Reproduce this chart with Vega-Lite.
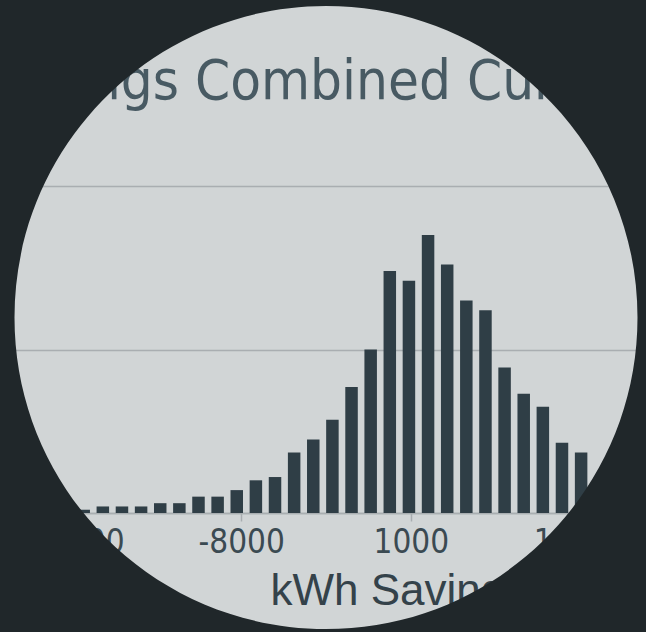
{
  "$schema": "https://vega.github.io/schema/vega-lite/v6.json",
  "width": 632,
  "height": 327,
  "autosize": {"type": "none"},
  "padding": {"left": 10, "top": 186, "right": 4, "bottom": 119},
  "background": "#d1d5d6",
  "config": {"view": {"stroke": null}},
  "layer": [
    {
      "data": {
        "values": [
          {"kwh": -19400, "count": 1},
          {"kwh": -18385, "count": 1},
          {"kwh": -17370, "count": 2},
          {"kwh": -16355, "count": 2},
          {"kwh": -15340, "count": 4},
          {"kwh": -14325, "count": 4},
          {"kwh": -13310, "count": 4},
          {"kwh": -12295, "count": 6},
          {"kwh": -11280, "count": 6},
          {"kwh": -10265, "count": 10},
          {"kwh": -9250, "count": 10},
          {"kwh": -8235, "count": 14},
          {"kwh": -7220, "count": 20},
          {"kwh": -6205, "count": 22},
          {"kwh": -5190, "count": 37},
          {"kwh": -4175, "count": 45},
          {"kwh": -3160, "count": 57},
          {"kwh": -2145, "count": 77},
          {"kwh": -1130, "count": 100},
          {"kwh": -115, "count": 148},
          {"kwh": 900, "count": 142},
          {"kwh": 1915, "count": 170},
          {"kwh": 2930, "count": 152},
          {"kwh": 3945, "count": 130},
          {"kwh": 4960, "count": 124},
          {"kwh": 5975, "count": 89},
          {"kwh": 6990, "count": 73},
          {"kwh": 8005, "count": 65},
          {"kwh": 9020, "count": 43},
          {"kwh": 10035, "count": 37}
        ]
      },
      "mark": {"type": "bar", "size": 12.5, "color": "#2f3e46"},
      "encoding": {
        "x": {
          "field": "kwh",
          "type": "quantitative",
          "title": "kWh Savings",
          "scale": {"domain": [-20000, 13000], "nice": false, "zero": false},
          "axis": {
            "values": [-17000, -8000, 1000, 10000],
            "labelExpr": "'' + datum.value",
            "labelFont": "DejaVu Sans Condensed",
            "labelFontSize": 33,
            "labelColor": "#3b4a52",
            "labelPadding": 5,
            "labelFlush": false,
            "labelOverlap": false,
            "tickSize": 8,
            "tickColor": "#a9aeb1",
            "tickWidth": 1.5,
            "domainColor": "#a9aeb1",
            "domainWidth": 1.5,
            "grid": false,
            "titleFont": "Liberation Sans",
            "titleFontSize": 44,
            "titleFontWeight": "normal",
            "titleColor": "#34424a",
            "titleAlign": "left",
            "titleBaseline": "alphabetic",
            "titleX": 260,
            "titleY": 91
          }
        },
        "y": {
          "field": "count",
          "type": "quantitative",
          "scale": {"domain": [0, 200], "nice": false},
          "axis": {
            "values": [0, 100, 200],
            "labels": false,
            "ticks": false,
            "domain": false,
            "title": null,
            "grid": true,
            "gridColor": "#a9aeb1",
            "gridWidth": 1.5
          }
        }
      }
    },
    {
      "data": {"values": [{"label": "Savings Combined Current Year"}]},
      "mark": {
        "type": "text",
        "align": "left",
        "baseline": "alphabetic",
        "font": "DejaVu Sans Condensed",
        "fontSize": 56,
        "color": "#485a63"
      },
      "encoding": {
        "x": {"datum": -21744},
        "y": {"datum": 253},
        "text": {"field": "label"}
      }
    },
    {
      "data": {"values": [{"lens": "mask"}]},
      "mark": {
        "type": "point",
        "shape": "M-3,-3H3V3H-3Z M0,-1A1,1,0,1,0,0,1A1,1,0,1,0,0,-1Z",
        "size": 388129,
        "filled": true,
        "color": "#20272a",
        "opacity": 1,
        "strokeWidth": 0
      },
      "encoding": {
        "x": {"datum": -3500},
        "y": {"datum": 119.57}
      }
    }
  ]
}
